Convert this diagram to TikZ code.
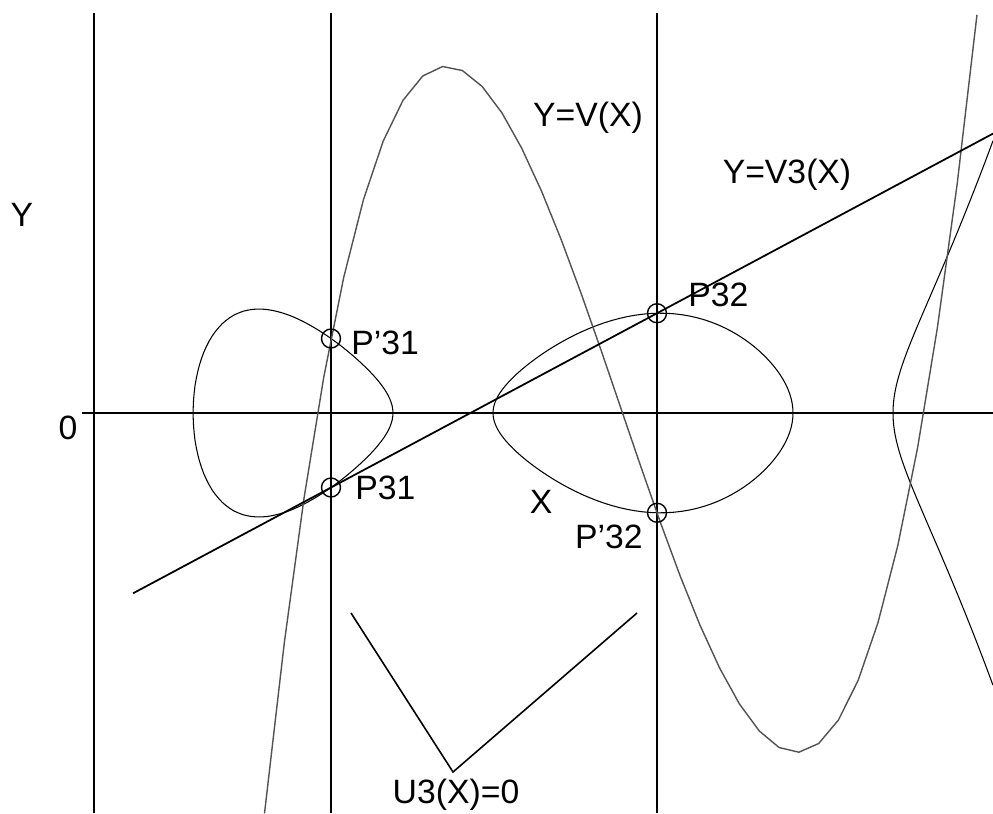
\documentclass[tikz,border=0pt]{standalone}
\usepackage{fontspec}
\setmainfont{Liberation Sans}
\usetikzlibrary{positioning, calc}

\begin{document}
\begin{tikzpicture}[
  every node/.style={font=\fontsize{9.6}{11}\selectfont, inner sep=1pt},
  guide/.style={black, line width=0.4pt},
  curve/.style={black, line width=0.3pt},
  vcurve/.style={black!68, line width=0.4pt},
  secant/.style={black, line width=0.5pt},
  ptmark/.style={draw, circle, line width=0.4pt, minimum size=0.19cm, inner sep=0pt},
  declare function={
    f(\t)=0.01544*(\t-1.93)*(\t-3.93)*(\t-4.93)*(\t-7.93)*(\t-8.93);
    v(\t)=4.037+0.32*((\t-6.2125)*(\t-6.2125)*(\t-6.2125)-9.1875*(\t-6.2125));
  }
]
  \useasboundingbox (0,0) rectangle (9.93,8.13);

  % Axes and vertical lines
  \draw[guide] (0.82,4) -- (9.93,4);
  \draw[guide] (0.94,0) -- (0.94,8.0);
  \draw[guide] (3.31,0) -- (3.31,8.0);
  \draw[guide] (6.57,0) -- (6.57,8.0);

  % Curve Y^2 = f(X): two ovals and the open branch
  \draw[curve] plot[domain=0:180, samples=61, variable=\a] ({2.93-cos(\a)}, {4+sqrt(max(0,f(2.93-cos(\a))))})
    -- plot[domain=180:360, samples=61, variable=\a] ({2.93-cos(\a)}, {4-sqrt(max(0,f(2.93-cos(\a))))}) -- cycle;
  \draw[curve] plot[domain=0:180, samples=61, variable=\a] ({6.43-1.5*cos(\a)}, {4+sqrt(max(0,f(6.43-1.5*cos(\a))))})
    -- plot[domain=180:360, samples=61, variable=\a] ({6.43-1.5*cos(\a)}, {4-sqrt(max(0,f(6.43-1.5*cos(\a))))}) -- cycle;
  \draw[curve] plot[domain=1:0, samples=41, variable=\s] ({8.93+\s*\s}, {4+sqrt(max(0,f(8.93+\s*\s)))})
    -- plot[domain=0:1, samples=41, variable=\s] ({8.93+\s*\s}, {4-sqrt(max(0,f(8.93+\s*\s)))});

  % Y=V(X)
  \draw[vcurve] plot[domain=2.645:9.77, samples=37, variable=\t] (\t, {v(\t)});

  % Points
  \node[ptmark] (p31b) at (3.31, {4+sqrt(f(3.31))}) {};
  \node[ptmark] (p31a) at (3.31, {4-sqrt(f(3.31))}) {};
  \node[ptmark] (p32a) at (6.57, {4+sqrt(f(6.57))}) {};
  \node[ptmark] (p32b) at (6.57, {4-sqrt(f(6.57))}) {};

  % Y=V3(X)
  \coordinate (v3l) at ($(p31a.center)!-0.607!(p32a.center)$);
  \coordinate (v3r) at ($(p31a.center)!2.031!(p32a.center)$);
  \draw[secant] (v3l) -- (v3r);

  % U3(X)=0
  \coordinate (u1) at (3.51,2.00);
  \coordinate (u2) at (4.53,0.41);
  \coordinate (u3) at (6.37,2.00);
  \draw[guide, line width=0.45pt] (u1) -- (u2) -- (u3);

  % Labels
  \node[right=0.06cm of p31b, yshift=-0.04cm] (lp31b) {P’31};
  \node[right=0.1cm of p31a] (lp31a) {P31};
  \node[right=0.17cm of p32a, yshift=0.18cm] (lp32a) {P32};
  \node[left=0cm of p32b, yshift=-0.24cm] (lp32b) {P’32};
  \node[below=0.03cm of u2, xshift=0.03cm] (lu3) {U3(X)=0};
  \node (ly) at (0.22,5.98) {Y};
  \node (lo) at (0.68,3.85) {0};
  \node (lx) at (5.41,3.11) {X};
  \node (lv) at (5.88,6.95) {Y=V(X)};
  \node (lv3) at (7.87,6.38) {Y=V3(X)};
\end{tikzpicture}
\end{document}
